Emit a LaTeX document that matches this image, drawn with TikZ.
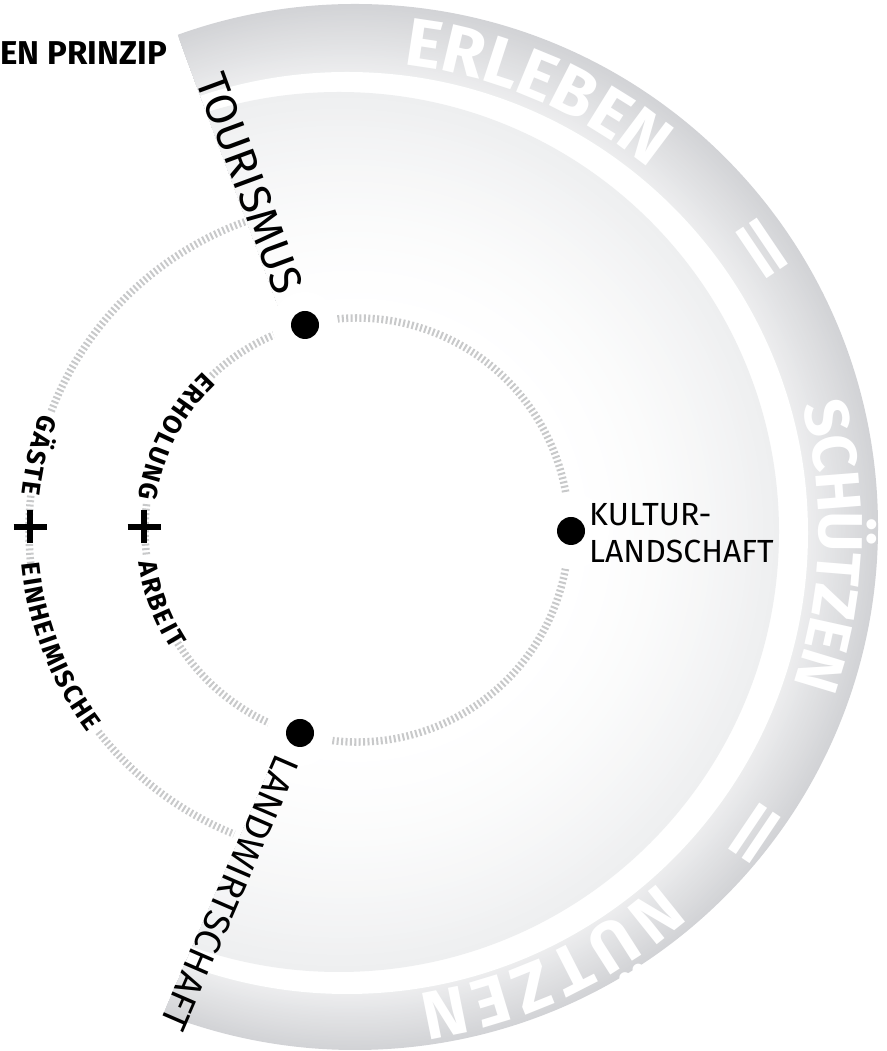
\documentclass[tikz,border=0pt]{standalone}
\usepackage{fontspec}
\setmainfont{Fira Sans}
\usetikzlibrary{decorations.text}
\definecolor{bandgray}{RGB}{210,211,214}
\definecolor{innergray}{RGB}{238,239,240}
\definecolor{tickgray}{RGB}{200,201,202}
\tikzset{
  ticks/.style={draw=tickgray, line width=7.5pt, dash pattern=on 2pt off 2.4pt},
  halo/.style={fill=white, draw=none},
  bigdot/.style={circle, fill=black, minimum size=28pt, inner sep=0pt},
  edgelabel/.style={inner sep=0pt},
  plusbar/.style={draw=black, line width=5.5pt},
  eqsign/.style={inner sep=0pt, text=white, font=\fontsize{60}{60}\selectfont\bfseries},
}
\begin{document}
\begin{tikzpicture}[x=1pt,y=1pt]
\useasboundingbox (0,0) rectangle (886,1051);
% sector with gradients
\begin{scope}
  \clip (366.6,506) -- (122.7,1165) -- (1000,1165) -- (1000,-105) -- (101.9,-105) -- cycle;
  \foreach \i in {0,...,40}{
    \pgfmathsetmacro\t{\i/40}
    \pgfmathsetmacro\r{523-62*\t}
    \pgfmathsetmacro\cx{355-8*\t}
    \pgfmathsetmacro\cy{524-6*\t}
    \pgfmathsetmacro\p{100-60*\t}
    \fill[bandgray!\p!white] (\cx,\cy) circle[radius=\r];
  }
  \fill[white] (347,518) circle[radius=461];
  \foreach \i in {0,...,40}{
    \pgfmathsetmacro\t{\i/40}
    \pgfmathsetmacro\r{440-225*\t}
    \pgfmathsetmacro\cx{339+18*\t}
    \pgfmathsetmacro\cy{519+2*\t}
    \pgfmathsetmacro\p{100*(1-\t)^1.6}
    \fill[innergray!\p!white] (\cx,\cy) circle[radius=\r];
  }
\end{scope}
\coordinate (C) at (357,521);
\fill[white] (C) circle[radius=216];
% band words
\path[decorate, decoration={text along path, text align=center, text color=white,
  text={|\fontsize{68}{68}\selectfont\bfseries|ERLEBEN}}]
  (351,521) ++(97:468) arc[start angle=97, end angle=37, radius=468];
\path[decorate, decoration={text along path, text align=center, text color=white,
  text={|\fontsize{62}{62}\selectfont\bfseries\kern-1.5pt|SCHÜTZEN}}]
  (351,521) ++(30:468) arc[start angle=30, end angle=-34, radius=468];
\path[decorate, decoration={text along path, text align=center, text color=white,
  text={|\fontsize{68}{68}\selectfont\bfseries\kern5pt|NÜTZEN}}]
  (351,521) ++(-35:468) arc[start angle=-35, end angle=-95, radius=468];
\node[eqsign, rotate=-56] (eq1) at (757,799) {\scalebox{2.2}[1.3]{=}};
\node[eqsign, rotate=-124] (eq2) at (749,221) {\scalebox{2.2}[1.3]{=}};
% dotted circles
\draw[ticks] (C) ++(211:212) arc[start angle=211, end angle=494, radius=212];
\draw[ticks] (C) ++(173:212) arc[start angle=173, end angle=187, radius=212];
\draw[ticks] (C) ++(110:328) arc[start angle=110, end angle=159, radius=328];
\draw[ticks] (C) ++(174:328) arc[start angle=174, end angle=186, radius=328];
\draw[ticks] (C) ++(218:328) arc[start angle=218, end angle=248, radius=328];
% halos and dots
\fill[halo] (305,726) circle[radius=33];
\fill[halo] (300,318) circle[radius=33];
\fill[halo] (571,520) circle[radius=38];
\node[bigdot] (dotT) at (305,726) {};
\node[bigdot] (dotL) at (300,318) {};
\node[bigdot] (dotK) at (571,520) {};
% plus signs
\coordinate (plusO) at (30,524);
\coordinate (plusI) at (144,524);
\draw[plusbar] ([xshift=-16.5pt]plusO) -- ([xshift=16.5pt]plusO);
\draw[plusbar] ([yshift=-16.5pt]plusO) -- ([yshift=16.5pt]plusO);
\draw[plusbar] ([xshift=-16.5pt]plusI) -- ([xshift=16.5pt]plusI);
\draw[plusbar] ([yshift=-16.5pt]plusI) -- ([yshift=16.5pt]plusI);
% circle labels
\path[decorate, decoration={text along path, text align=left,
  text={|\fontsize{26}{26}\selectfont\bfseries\kern2pt|GÄSTE}}]
  (C) ++(159.5:337) arc[start angle=159.5, end angle=200, radius=337];
\path[decorate, decoration={text along path, text align=left,
  text={|\fontsize{26}{26}\selectfont\bfseries\kern1.6pt|EINHEIMISCHE}}]
  (C) ++(185.5:337) arc[start angle=185.5, end angle=250, radius=337];
\path[decorate, decoration={text along path, text align=left,
  text={|\fontsize{26}{26}\selectfont\bfseries\kern2.2pt|ERHOLUNG}}]
  (C) ++(133.5:221) arc[start angle=133.5, end angle=200, radius=221];
\path[decorate, decoration={text along path, text align=left,
  text={|\fontsize{26}{26}\selectfont\bfseries\kern2.2pt|ARBEIT}}]
  (C) ++(188:221) arc[start angle=188, end angle=240, radius=221];
% edge labels
\node[edgelabel, anchor=base west, rotate=-69.7, font=\fontsize{44}{44}\selectfont] (tour) at (195.5,971) {TOURISMUS};
\node[edgelabel, anchor=base west, rotate=-113.4, font=\fontsize{37}{37}\selectfont] (land) at (276.9,299) {LANDWIRTSCHAFT};
% Kulturlandschaft
\node[edgelabel, anchor=base west, font=\fontsize{32}{32}\selectfont] (kult1) at (589,525) {KULTUR-};
\node[edgelabel, anchor=base west, font=\fontsize{32}{32}\selectfont] (kult2) at (589,488.3) {LANDSCHAFT};
% title
\node[edgelabel, anchor=base east, font=\fontsize{33}{33}\selectfont\bfseries] (title) at (167,986) {EN PRINZIP};
\end{tikzpicture}
\end{document}
